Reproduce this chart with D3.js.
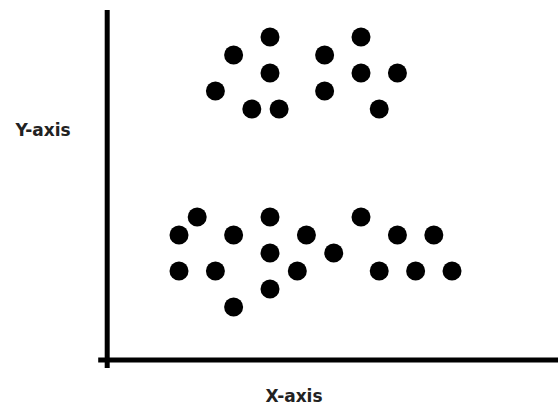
<!DOCTYPE html>
<html>
<head>
<meta charset="utf-8">
<script src="https://cdn.jsdelivr.net/npm/d3@7"></script>
<style>
  html, body { margin: 0; padding: 0; background: #fff; }
</style>
</head>
<body>
<div id="chart"></div>
<script>
// upper cluster
const upperX = [9, 7, 9, 6, 8, 9.5, 12, 14, 14, 16, 12, 15]
const upperY = [18, 17, 16, 15, 14, 14, 17, 18, 16, 16, 15, 14]
// lower cluster
const lowerX = [5, 4, 4, 6, 7, 7, 9, 9, 9, 11, 10.5, 12.5, 14, 16, 18, 15, 17, 19]
const lowerY = [8, 7, 5, 5, 7, 3, 8, 6, 4, 7, 5, 6, 8, 7, 7, 5, 5, 5]
const xLabel = "X-axis"
const yLabel = "Y-axis"

const width = 558
const height = 405

const points = upperX.map((x, i) => ({ x: x, y: upperY[i] }))
    .concat(lowerX.map((x, i) => ({ x: x, y: lowerY[i] })))

const svg = d3.select("#chart")
    .append("svg")
    .attr("width", width)
    .attr("height", height)

const xScale = d3.scaleLinear()
    .domain([0, 24.8])
    .range([106.2, 557.6])

const yScale = d3.scaleLinear()
    .domain([0, 19.5])
    .range([361, 10])

// axes, drawn as thick black lines
svg.append("line")
    .attr("x1", xScale(0) + 1)
    .attr("x2", xScale(0) + 1)
    .attr("y1", yScale(19.5))
    .attr("y2", yScale(0) + 7)
    .attr("stroke", "#000")
    .attr("stroke-width", 5)

svg.append("line")
    .attr("x1", xScale(0) - 8)
    .attr("x2", width)
    .attr("y1", yScale(0) - 1)
    .attr("y2", yScale(0) - 1)
    .attr("stroke", "#000")
    .attr("stroke-width", 5)

svg.append("g")
    .selectAll("circle")
    .data(points)
    .enter().append("circle")
    .attr("cx", d => xScale(d.x))
    .attr("cy", d => yScale(d.y))
    .attr("r", 9.5)
    .attr("fill", "#000")

svg.append("text")
    .attr("x", 294)
    .attr("y", 402)
    .attr("text-anchor", "middle")
    .style("font-family", "DejaVu Sans")
    .style("font-size", "17px")
    .style("font-weight", "bold")
    .style("fill", "#222")
    .text(xLabel)

svg.append("text")
    .attr("x", 43)
    .attr("y", 136)
    .attr("text-anchor", "middle")
    .style("font-family", "DejaVu Sans")
    .style("font-size", "17px")
    .style("font-weight", "bold")
    .style("fill", "#222")
    .text(yLabel)
</script>
</body>
</html>
